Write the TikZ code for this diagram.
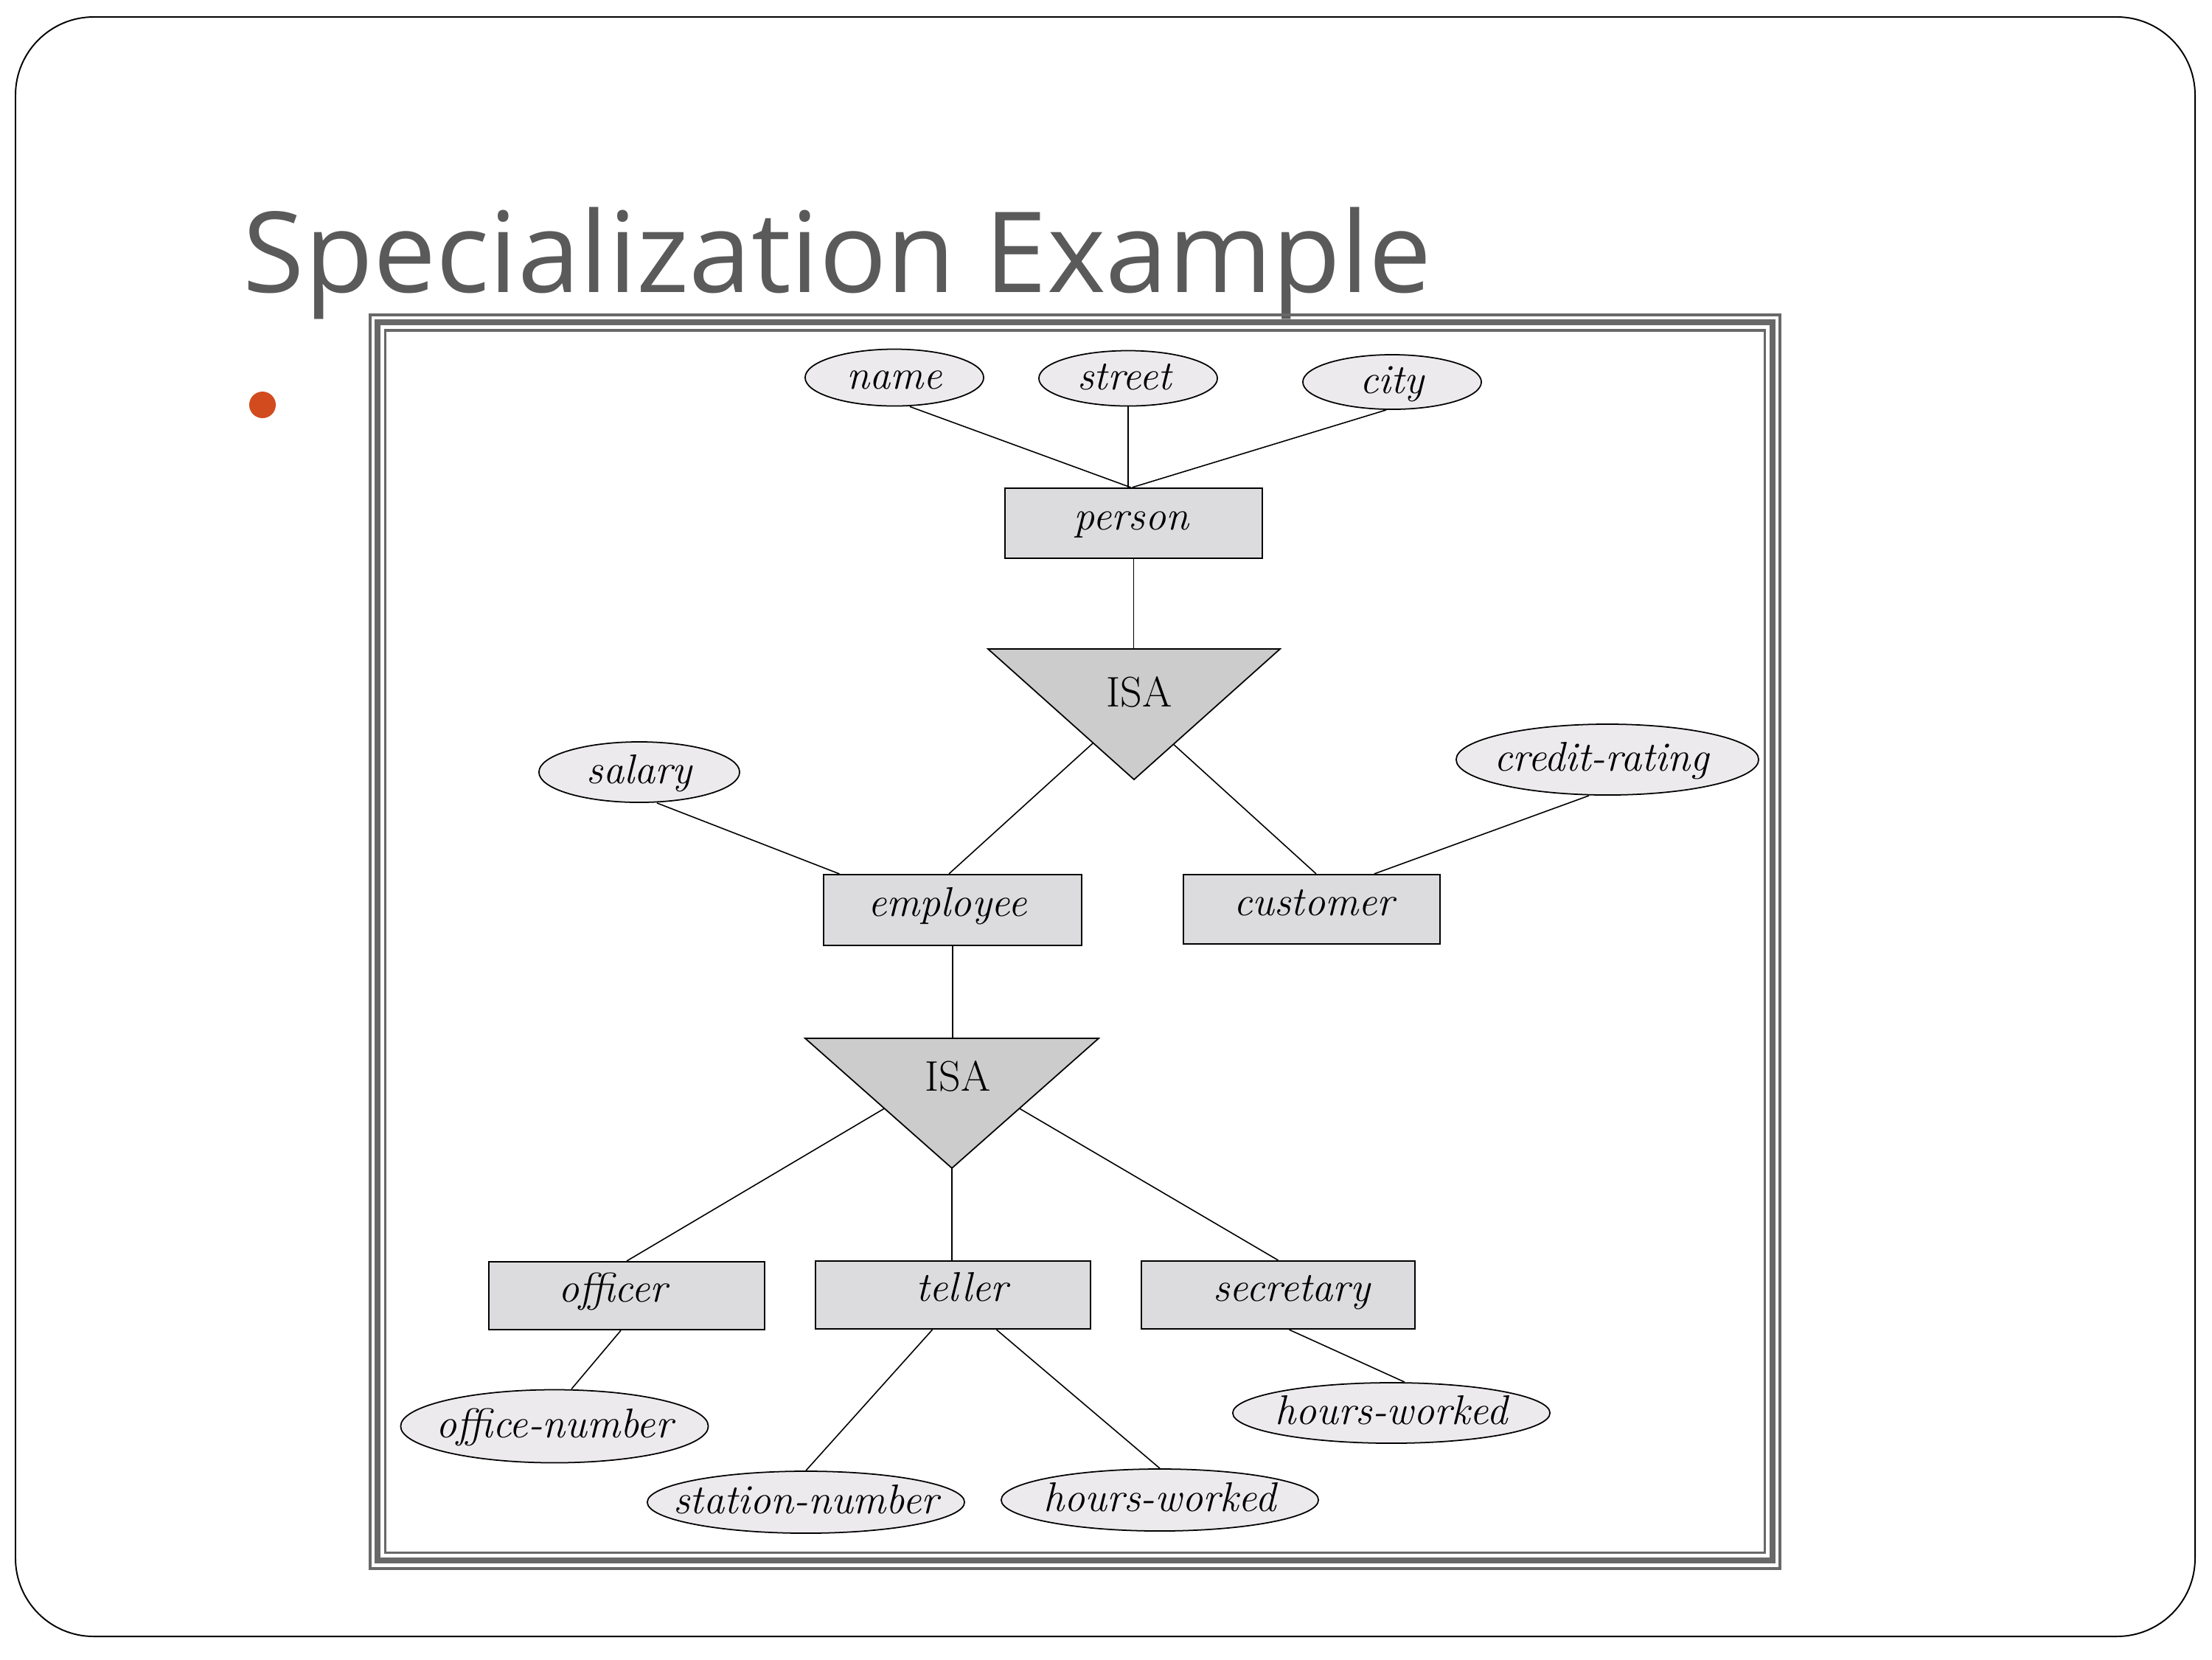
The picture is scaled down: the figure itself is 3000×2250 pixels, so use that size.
\documentclass[tikz,border=0pt]{standalone}
\usepackage{fontspec}
\newfontfamily\titlefont{Open Sans}
\usetikzlibrary{calc,shapes.geometric}
\definecolor{titlegray}{RGB}{90,90,90}
\definecolor{bulletred}{RGB}{210,75,30}
\definecolor{framegray}{RGB}{104,104,104}
\definecolor{boxfill}{RGB}{220,219,222}
\definecolor{ellfill}{RGB}{237,234,237}
\definecolor{isafill}{RGB}{204,204,204}
\newcommand{\attrtext}[1]{\makebox[0pt]{#1}}
\newcommand{\shiftedtext}[2]{\makebox[0pt]{\hspace*{#1}#2\hspace*{-#1}}}
\begin{document}
\begin{tikzpicture}[x=0.01cm,y=-0.01cm,
  entity/.style={rectangle, draw=black, line width=0.6pt, fill=boxfill, inner sep=0pt,
    font=\fontsize{16}{19}\selectfont\itshape, text height=8pt, text depth=3pt},
  attr/.style={ellipse, draw=black, line width=0.5pt, fill=ellfill, inner sep=0pt,
    font=\fontsize{16}{19}\selectfont\itshape, text height=11.8pt, text depth=3pt},
  isatext/.style={inner sep=0pt, font=\fontsize{16.5}{19}\selectfont},
  isatri/.style={draw=black, line width=0.5pt, fill=isafill, line join=miter},
  conn/.style={line width=0.45pt},
  framestyle/.style={draw=framegray}]
\useasboundingbox (0,0) rectangle (3000,2250);
% slide outline
\draw[rounded corners=1.06cm, line width=0.55pt] (21,23) rectangle (2977,2219);
% title and bullet
\node[anchor=base west, inner sep=0pt, font=\titlefont\fontsize{43.2}{50}\selectfont, text=titlegray] (title) at (329,396) {Specialization Example};
\node[circle, fill=bulletred, minimum size=0.36cm, inner sep=0pt] (bullet) at (356,549) {};
% picture frame
\draw[framestyle, line width=0.04cm] (502,427) rectangle (2414,2126.5);
\draw[framestyle, line width=0.08cm] (512,437) rectangle (2403.5,2116);
\draw[framestyle, line width=0.035cm] (522.5,448) rectangle (2393.5,2105.5);
% ISA triangles
\coordinate (t1L) at (1340,880);
\coordinate (t1R) at (1736,880);
\coordinate (t1A) at (1538,1057);
\coordinate (t2L) at (1092,1408);
\coordinate (t2R) at (1490,1408);
\coordinate (t2A) at (1291,1584);
\draw[isatri] (t1L) -- (t1R) -- (t1A) -- cycle;
\draw[isatri] (t2L) -- (t2R) -- (t2A) -- cycle;
\node[isatext] (isa1) at (1545,938) {ISA};
\node[isatext] (isa2) at (1299,1459) {ISA};
% entities
\node[entity, minimum width=3.49cm, minimum height=0.95cm] (person) at (1537.5,709.5) {\shiftedtext{-0.03cm}{person}};
\node[entity, minimum width=3.49cm, minimum height=0.96cm] (employee) at (1292,1234) {\shiftedtext{-0.07cm}{employee}};
\node[entity, minimum width=3.48cm, minimum height=0.94cm] (customer) at (1779,1233) {\shiftedtext{0.03cm}{customer}};
\node[entity, minimum width=3.74cm, minimum height=0.92cm] (officer) at (850,1757) {\shiftedtext{-0.19cm}{officer}};
\node[entity, minimum width=3.73cm, minimum height=0.92cm] (teller) at (1292.5,1756) {\shiftedtext{0.12cm}{teller}};
\node[entity, minimum width=3.71cm, minimum height=0.92cm] (secretary) at (1733.5,1756) {\shiftedtext{0.18cm}{secretary}};
% attributes
\node[attr, minimum width=2.42cm, minimum height=0.77cm] (name) at (1213,512) {\attrtext{name}};
\node[attr, minimum width=2.42cm, minimum height=0.75cm] (street) at (1530,513) {\shiftedtext{-0.05cm}{street}};
\node[attr, minimum width=2.42cm, minimum height=0.74cm] (city) at (1888,518) {\attrtext{city}};
\node[attr, minimum width=2.72cm, minimum height=0.82cm] (salary) at (867,1047) {\attrtext{salary}};
\node[attr, minimum width=4.10cm, minimum height=0.96cm] (credit) at (2180,1030) {\shiftedtext{-0.08cm}{credit-rating}};
\node[attr, minimum width=4.17cm, minimum height=0.99cm] (officenum) at (752,1934) {\attrtext{office-number}};
\node[attr, minimum width=4.30cm, minimum height=0.84cm] (station) at (1093,2037) {\attrtext{station-number}};
\node[attr, minimum width=4.30cm, minimum height=0.84cm] (hwA) at (1573,2034) {\attrtext{hours-worked}};
\node[attr, minimum width=4.30cm, minimum height=0.82cm] (hwB) at (1887,1916) {\attrtext{hours-worked}};
% connectors
\draw[conn] ($(name.south)+(21,0)$) -- ($(person.north)+(-4,0)$);
\draw[conn] (street.south) -- (street.south |- person.north);
\draw[conn] ($(city.south)+(-8,0)$) -- ($(person.north)+(-2,0)$);
\draw[conn] (person.south) -- (person.south |- t1L);
\draw[conn] ($(t1L)!0.72!(t1A)$) -- ($(employee.north)+(-5,0)$);
\draw[conn] ($(t1R)!0.73!(t1A)$) -- ($(customer.north)+(6,0)$);
\draw[conn] ($(salary.south)+(24,0)$) -- ($(employee.north west)+(22,0)$);
\draw[conn] ($(credit.south)+(-25,0)$) -- ($(customer.north west)+(260,0)$);
\draw[conn] (employee.south) -- (employee.south |- t2L);
\draw[conn] ($(t2L)!0.54!(t2A)$) -- (officer.north);
\draw[conn] (t2A) -- (t2A |- teller.north);
\draw[conn] ($(t2R)!0.54!(t2A)$) -- (secretary.north);
\draw[conn] ($(officer.south)+(-8,0)$) -- ($(officenum.north)+(23,0)$);
\draw[conn] ($(teller.south)+(-28,0)$) -- (station.north);
\draw[conn] ($(teller.south)+(59,0)$) -- (hwA.north);
\draw[conn] ($(secretary.south)+(15,0)$) -- ($(hwB.north)+(18,0)$);
\end{tikzpicture}
\end{document}
